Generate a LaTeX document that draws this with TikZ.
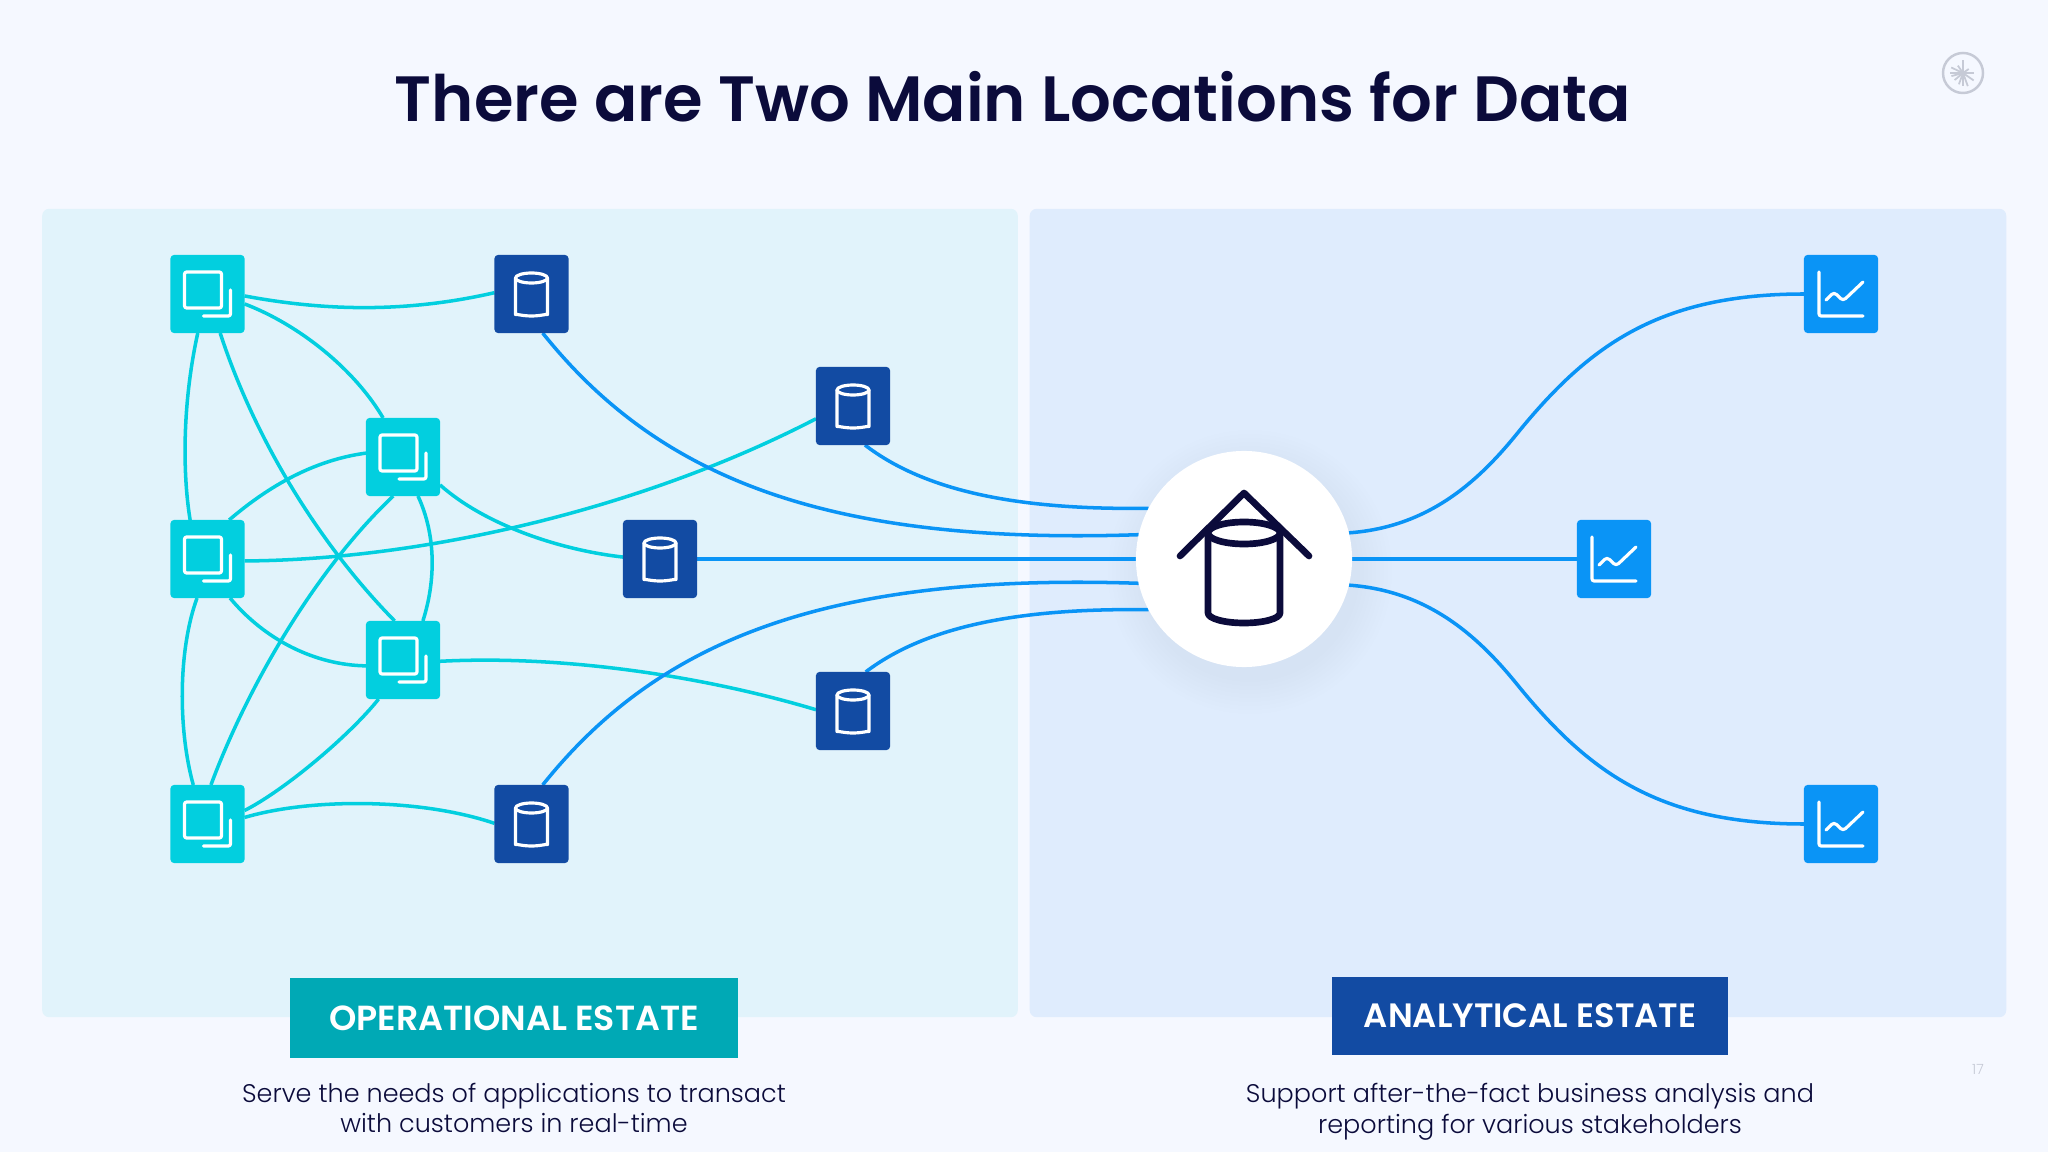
\documentclass[tikz,border=0pt]{standalone}
\usepackage{fontspec}
\setmainfont{Poppins}
\newfontfamily\headfont{Poppins SemiBold}
\newfontfamily\thinfont{Poppins Light}
\usetikzlibrary{backgrounds}
\definecolor{pagebg}{HTML}{F5F8FF}
\definecolor{oppanel}{HTML}{E1F3FB}
\definecolor{anpanel}{HTML}{DFECFD}
\definecolor{appteal}{HTML}{02CFDF}
\definecolor{dbnavy}{HTML}{124BA3}
\definecolor{chartblue}{HTML}{0A94F6}
\definecolor{labelteal}{HTML}{00A9B5}
\definecolor{inkdark}{HTML}{0B0B3B}
\definecolor{logogray}{HTML}{C6CAD6}
\tikzset{
    iconline/.style={draw=white, line width=0.9pt, line cap=round, line join=round},
    hubline/.style={draw=inkdark, line width=1.9pt, line cap=round, line join=round},
    tile/.style={rectangle, rounded corners=1pt, inner sep=0pt, outer sep=0pt, minimum width=0.74cm, minimum height=0.78cm},
    appbox/.style={tile, fill=appteal, path picture={
        \begin{scope}[shift={(path picture bounding box.center)}]
            \draw[iconline, rounded corners=0.6pt] (-23,-22) rectangle (14,14);
            \draw[iconline, rounded corners=0.6pt] (23,-4) -- (23,22) -- (-4,22);
        \end{scope}}},
    dbbox/.style={tile, fill=dbnavy, path picture={
        \begin{scope}[shift={(path picture bounding box.center)}]
            \draw[iconline] (0,-16) ellipse (16 and 5);
            \draw[iconline] (-16,-16) -- (-16,17) arc[start angle=180, end angle=0, x radius=16, y radius=5] -- (16,-16);
        \end{scope}}},
    chartbox/.style={tile, fill=chartblue, path picture={
        \begin{scope}[shift={(path picture bounding box.center)}]
            \draw[iconline, rounded corners=0.6pt] (-22,-22) -- (-22,22) -- (22,22);
            \draw[iconline] (-15,6) -- (-7,-2) -- (2,7) -- (22,-12);
        \end{scope}}},
}
\begin{document}
\begin{tikzpicture}[
        x=0.01cm, y=-0.01cm,
        panel/.style={rectangle, rounded corners=2pt, inner sep=0pt, minimum height=8.08cm, minimum width=9.75cm},
        estate/.style={rectangle, inner sep=0pt, text=white, font=\headfont\fontsize{9.9}{12}\selectfont},
        blurb/.style={align=center, text=inkdark, font=\thinfont\fontsize{7.25}{8.7}\selectfont},
        hub/.style={circle, fill=white, inner sep=0pt, outer sep=0pt, minimum size=2.16cm, path picture={
            \begin{scope}[shift={(path picture bounding box.center)}]
                \draw[hubline] (-64,-3) -- (0,-66) -- (65,-3);
                \draw[hubline] (0,-26) ellipse (36 and 11);
                \draw[hubline] (-36,-26) -- (-36,54) arc[start angle=180, end angle=0, x radius=36, y radius=10] -- (36,-26);
            \end{scope}}},
        applink/.style={draw=appteal, line width=1pt},
        bluelink/.style={draw=chartblue, line width=1pt}
    ]

    % Page
    \useasboundingbox (0,0) rectangle (2048,1152);

    % Title
    \node[font=\headfont\fontsize{18.2}{22}\selectfont, text=inkdark] (title) at (1013,97) {There are Two Main Locations for Data};

    % Applications
    \node[appbox] (a1) at (207.5,294) {};
    \node[appbox] (a2) at (403,457) {};
    \node[appbox] (a3) at (207.5,559) {};
    \node[appbox] (a4) at (403,660) {};
    \node[appbox] (a5) at (207.5,824) {};

    % Operational databases
    \node[dbbox] (d1) at (531.5,294) {};
    \node[dbbox] (d2) at (853,406) {};
    \node[dbbox] (d3) at (660,559) {};
    \node[dbbox] (d4) at (853,711) {};
    \node[dbbox] (d5) at (531.5,824) {};

    % Hub and charts
    \node[hub] (center) at (1244,559) {};
    \node[chartbox] (c1) at (1841,294) {};
    \node[chartbox] (c2) at (1614,559) {};
    \node[chartbox] (c3) at (1841,824) {};

    % Estate labels
    \node[estate, fill=labelteal, minimum width=4.48cm, minimum height=0.79cm] (oplabel) at (514,1018) {OPERATIONAL ESTATE};
    \node[estate, fill=dbnavy, minimum width=3.96cm, minimum height=0.78cm, font=\headfont\fontsize{9.6}{12}\selectfont] (anlabel) at (1530,1016) {ANALYTICAL ESTATE};
    \node[blurb] (optext) at (514,1108) {Serve the needs of applications to transact\\with customers in real-time};
    \node[blurb] (antext) at (1530,1111.5) {Support after-the-fact business analysis and\\reporting for various stakeholders};

    % Logo and page number
    \node[circle, draw=logogray, line width=0.7pt, inner sep=0pt, minimum size=0.4cm] (logo) at (1963,73) {};
    \foreach \ang/\len in {0/11,35/13,70/14,90/13,110/12,140/11,165/12,180/13,205/13,235/9,270/13,325/7}
        \draw[logogray, line width=0.5pt] (logo.center) -- ++(\ang:\len);
    \node[font=\thinfont\fontsize{4}{5}\selectfont, text=logogray] (pagenum) at (1978,1069) {17};

    \begin{scope}[on background layer]
        \fill[pagebg] (0,0) rectangle (2048,1152);
        \node[panel, fill=oppanel] (oppanel) at (530,613) {};
        \node[panel, fill=anpanel, minimum width=9.76cm] (anpanel) at (1518,613) {};

        % Soft shadow of the hub
        \foreach \rad in {110,114,...,142}
            \fill[dbnavy, opacity=0.005] (1250,572) circle (\rad);

        % Links between applications and databases
        \draw[applink] (a1.-3) .. controls (330,312) and (410,312) .. (d1.178);
        \draw[applink] (a1.-15) .. controls (300,325) and (355,370) .. (a2.117);
        \draw[applink] (a1.-104) .. controls (183,400) and (182,470) .. (a3.114);
        \draw[applink] (a1.-72) .. controls (255,440) and (320,545) .. (a4.102);
        \draw[applink] (a3.61) .. controls (270,485) and (315,460) .. (a2.174);
        \draw[applink] (a2.-104) .. controls (320,565) and (250,680) .. (a5.85);
        \draw[applink] (a2.-69) .. controls (436,535) and (436,580) .. (a4.63);
        \draw[applink] (a2.-37) .. controls (485,525) and (560,550) .. (d3.177);
        \draw[applink] (a3.-3) .. controls (420,560) and (640,510) .. (d2.-161);
        \draw[applink] (a3.-60) .. controls (265,640) and (315,665) .. (a4.-171);
        \draw[applink] (a3.-105) .. controls (178,650) and (178,730) .. (a5.110);
        \draw[applink] (a4.-122) .. controls (350,735) and (285,790) .. (a5.20);
        \draw[applink] (a4.-2) .. controls (560,655) and (700,675) .. (d4.178);
        \draw[applink] (a5.10) .. controls (310,798) and (420,798) .. (d5.179);

        % Links into the hub
        \draw[bluelink] (d1.-74) .. controls (660,480) and (830,545) .. (center.167);
        \draw[bluelink] (d2.-73) .. controls (930,495) and (1030,510) .. (center.152);
        \draw[bluelink] (d3) -- (center);
        \draw[bluelink] (d4.72) .. controls (930,623) and (1030,608) .. (center.208);
        \draw[bluelink] (d5.74) .. controls (660,638) and (830,573) .. (center.193);

        % Links out to the charts
        \draw[bluelink] (center.14) .. controls (1430,527) and (1480,480) .. (1520,430) .. controls (1590,345) and (1660,294) .. (c1.west);
        \draw[bluelink] (center) -- (c2);
        \draw[bluelink] (center.-14) .. controls (1430,591) and (1480,638) .. (1520,688) .. controls (1590,773) and (1660,824) .. (c3.west);
    \end{scope}
\end{tikzpicture}
\end{document}
